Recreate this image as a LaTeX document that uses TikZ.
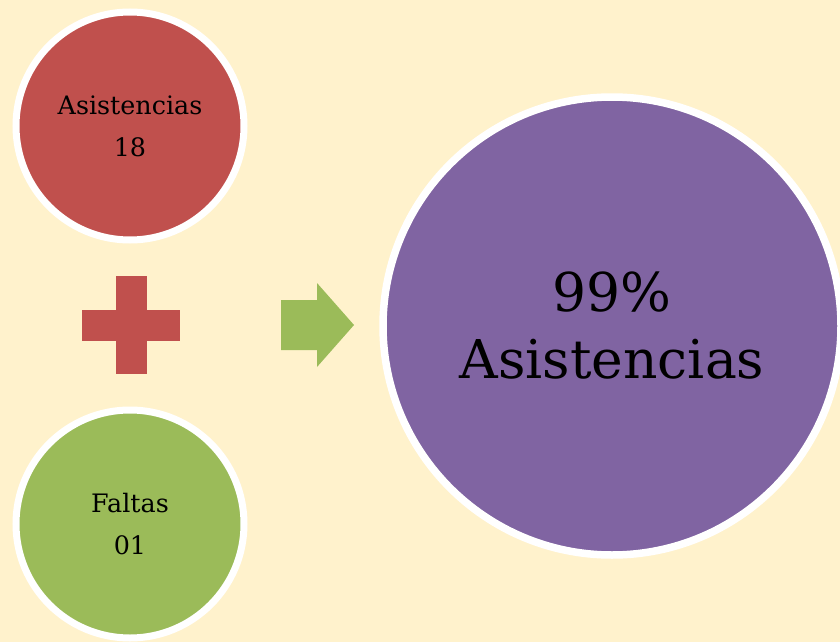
\documentclass[tikz,border=0pt]{standalone}
\usepackage{fontspec}
\setmainfont{DejaVu Serif}
\definecolor{bgcream}{HTML}{FFF2CC}
\definecolor{cred}{HTML}{C0504D}
\definecolor{cgreen}{HTML}{9BBB59}
\definecolor{cpurple}{HTML}{8064A2}
\begin{document}
\begin{tikzpicture}[x=1pt,y=-1pt,
  bubble/.style={circle, draw=white, inner sep=0pt, align=center, text=black},
  small/.style={bubble, line width=7pt, minimum size=228pt, font=\fontsize{25.4}{42}\selectfont},
  big/.style={bubble, line width=7.5pt, minimum size=458pt, font=\fontsize{53.5}{67}\selectfont}]
\fill[bgcream] (0,0) rectangle (840,642);
\useasboundingbox (0,0) rectangle (840,642);
\node[small, fill=cred] (asis) at (130,126) {Asistencias\\18};
\node[small, fill=cgreen] (faltas) at (130,524) {Faltas\\01};
\node[big, fill=cpurple] (total) at (612,326) {99\%\\Asistencias};
\fill[cred] (116,276) rectangle (147,374);
\fill[cred] (82,310) rectangle (180,341);
\fill[cgreen] (281,300) -- (317,300) -- (317,283) -- (354,325) -- (317,367) -- (317,350) -- (281,350) -- cycle;
\end{tikzpicture}
\end{document}
